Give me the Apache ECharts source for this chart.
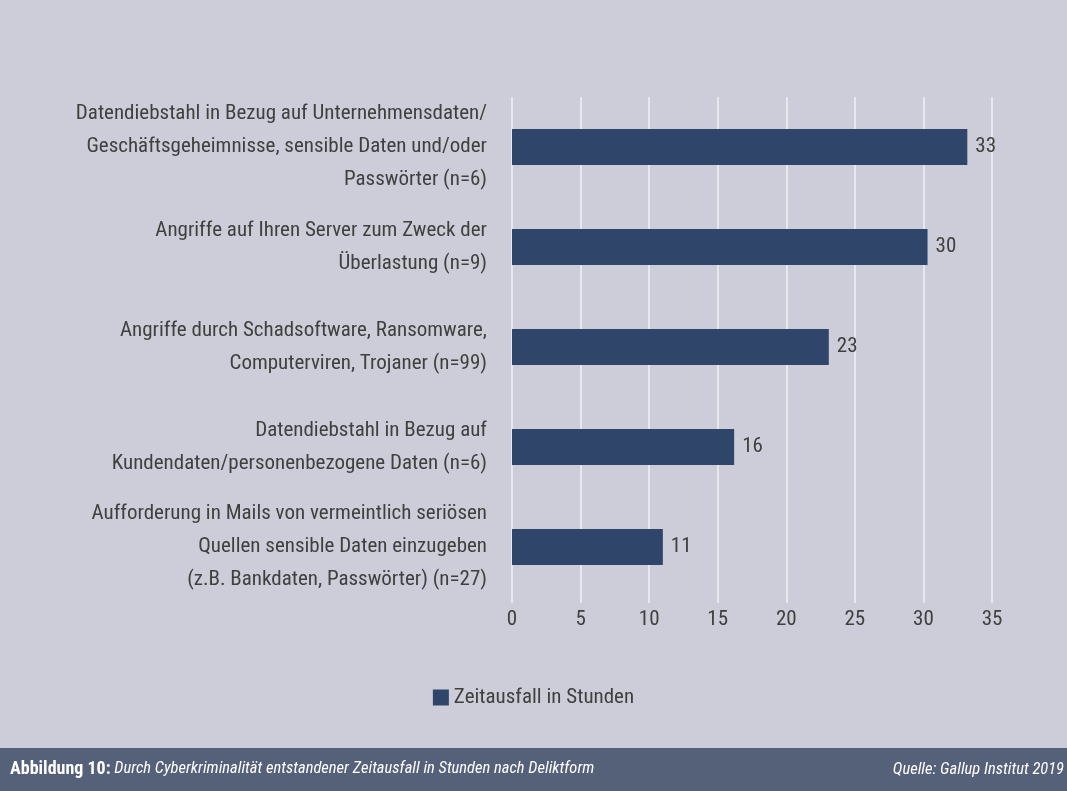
<!DOCTYPE html>
<html>
<head>
<meta charset="utf-8">
<script src="https://cdn.jsdelivr.net/npm/echarts@6/dist/echarts.min.js"></script>
<style>
  html, body { margin: 0; padding: 0; background: #cccdd8; }
  #chart { width: 1067px; height: 791px; }
</style>
</head>
<body>
<div id="chart"></div>
<script>
const categories = [
  'Datendiebstahl in Bezug auf Unternehmensdaten/\nGeschäftsgeheimnisse, sensible Daten und/oder\nPasswörter (n=6)',
  'Angriffe auf Ihren Server zum Zweck der\nÜberlastung (n=9)',
  'Angriffe durch Schadsoftware, Ransomware,\nComputerviren, Trojaner (n=99)',
  'Datendiebstahl in Bezug auf\nKundendaten/personenbezogene Daten (n=6)',
  'Aufforderung in Mails von vermeintlich seriösen\nQuellen sensible Daten einzugeben\n(z.B. Bankdaten, Passwörter) (n=27)'
]
const hours = [33.2, 30.3, 23.1, 16.2, 11.0]
const seriesName = 'Zeitausfall in Stunden'
const caption = 'Abbildung 10:'
const captionText = ' Durch Cyberkriminalität entstandener Zeitausfall in Stunden nach Deliktform'
const source = 'Quelle: Gallup Institut 2019'

const font = '"Roboto Condensed", "DejaVu Sans Condensed", sans-serif'
const textColor = '#404040'

const chart = echarts.init(document.getElementById('chart'))
chart.setOption({
  backgroundColor: '#cccdd8',
  textStyle: { fontFamily: font },
  animation: false,
  grid: { left: 512, right: 75, top: 97, bottom: 194 },
  legend: {
    top: 682,
    left: 'center',
    itemWidth: 16,
    itemHeight: 16,
    itemGap: 6,
    icon: 'rect',
    textStyle: { fontSize: 21, color: textColor, fontFamily: font },
    data: [seriesName]
  },
  xAxis: {
    type: 'value',
    min: 0,
    max: 35,
    interval: 5,
    axisLine: { show: false },
    axisTick: { show: true, length: 6, lineStyle: { color: '#e8e8ec', width: 2 } },
    axisLabel: { fontSize: 21, color: textColor, margin: 12, fontFamily: font },
    splitLine: { lineStyle: { color: '#e8e8ec', width: 2 } }
  },
  yAxis: {
    type: 'category',
    inverse: true,
    data: categories,
    axisLine: { show: false },
    axisTick: { show: false },
    axisLabel: {
      fontSize: 21,
      color: textColor,
      margin: 25,
      lineHeight: 33,
      align: 'right',
      fontFamily: font
    }
  },
  series: [{
    name: seriesName,
    type: 'bar',
    data: hours,
    barWidth: 36,
    itemStyle: { color: '#30456a' },
    label: {
      show: true,
      position: 'right',
      distance: 8,
      fontSize: 21,
      color: textColor,
      fontFamily: font,
      formatter: p => Math.round(p.value)
    }
  }],
  graphic: [
    {
      type: 'rect',
      left: 0,
      top: 748,
      shape: { width: 1067, height: 43 },
      style: { fill: '#556079' }
    },
    {
      type: 'text',
      left: 10,
      top: 760,
      style: {
        text: '{b|' + caption + '}{i|' + captionText + '}',
        rich: {
          b: { fontSize: 18, fontWeight: 'bold', fill: '#ffffff', fontFamily: font },
          i: { fontSize: 16.5, fontStyle: 'italic', fill: '#ffffff', fontFamily: font }
        }
      }
    },
    {
      type: 'text',
      right: 3,
      top: 761,
      style: {
        text: source,
        fontSize: 16.5,
        fontStyle: 'italic',
        fill: '#ffffff',
        fontFamily: font
      }
    }
  ]
})
</script>
</body>
</html>
